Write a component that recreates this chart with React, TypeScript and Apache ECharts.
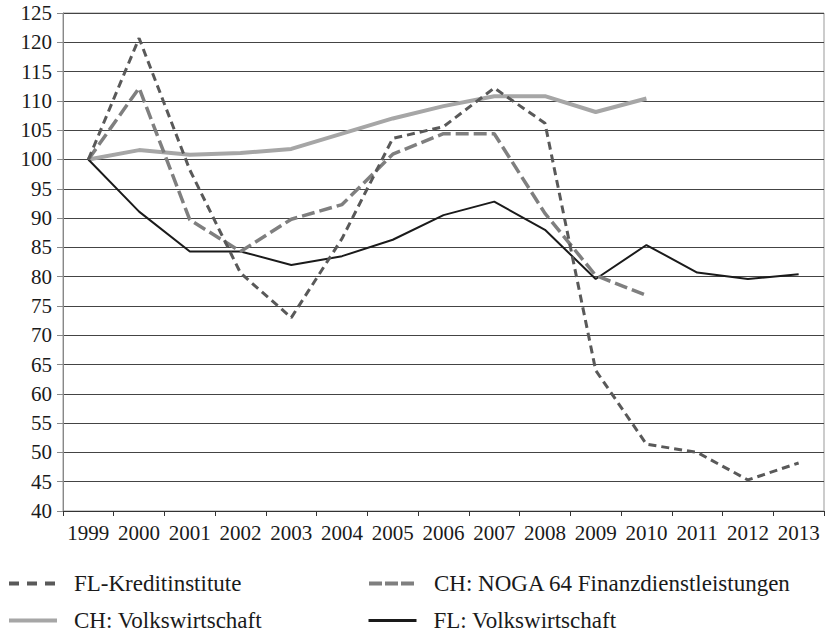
import React, { useEffect, useRef } from "react";
import * as echarts from "echarts";

const years = ["1999", "2000", "2001", "2002", "2003", "2004", "2005", "2006", "2007", "2008", "2009", "2010", "2011", "2012", "2013"];
const flKredit = [100, 120.7, 98.2, 80.6, 73, 86.5, 103.6, 105.6, 112.2, 106.2, 64, 51.4, 50, 45.3, 48.2];
const chNoga = [100, 112.2, 89.7, 84.3, 89.8, 92.3, 100.9, 104.4, 104.4, 90.8, 80.2, 76.8, null, null, null];
const chVolks = [100, 101.6, 100.8, 101.1, 101.8, 104.4, 107.0, 109.1, 110.8, 110.8, 108.1, 110.4, null, null, null];
const flVolks = [100, 91.1, 84.3, 84.3, 82.0, 83.5, 86.3, 90.5, 92.8, 88.0, 79.6, 85.4, 80.7, 79.6, 80.4];

const names = ["FL-Kreditinstitute", "CH: NOGA 64 Finanzdienstleistungen", "CH: Volkswirtschaft", "FL: Volkswirtschaft"];

const FONT = "Times New Roman, Liberation Serif, DejaVu Serif, serif";

export default function App() {
  const ref = useRef<HTMLDivElement>(null);
  useEffect(() => {
    if (!ref.current) return;
    const chart = echarts.init(ref.current, null, { renderer: "svg" });
    const legendBase = {
      orient: "horizontal",
      padding: 0,
      itemWidth: 48,
      itemHeight: 14,
      itemStyle: { opacity: 0, color: "transparent", borderWidth: 0 },
      textStyle: { fontFamily: FONT, fontSize: 23, color: "#1a1a1a", padding: [0, 0, 0, 12] },
      selectedMode: false,
    };
    chart.setOption({
      animation: false,
      backgroundColor: "#ffffff",
      textStyle: { fontFamily: FONT },
      grid: {
        left: 63,
        right: 1,
        top: 13,
        bottom: 123,
        show: true,
        borderColor: "#999",
        borderWidth: 1,
        backgroundColor: "transparent",
      },
      legend: [
        { ...legendBase, data: [names[0]], left: 7, top: 572, lineStyle: { width: 4, type: [10, 8], color: "#595959" } },
        { ...legendBase, data: [names[1]], left: 367, top: 572, lineStyle: { width: 4, type: [13, 3], color: "#7f7f7f" } },
        { ...legendBase, data: [names[2]], left: 7, top: 609, lineStyle: { width: 4, type: "solid", color: "#a6a6a6" } },
        { ...legendBase, data: [names[3]], left: 367, top: 609, lineStyle: { width: 3, type: "solid", color: "#1a1a1a" } },
      ],
      xAxis: {
        type: "category",
        data: years,
        boundaryGap: true,
        axisLine: { lineStyle: { color: "#333", width: 1 } },
        axisTick: { show: true, length: 5, alignWithLabel: false, lineStyle: { color: "#333" } },
        axisLabel: { interval: 0, fontFamily: FONT, fontSize: 21, color: "#1a1a1a", margin: 11 },
        splitLine: { show: false },
      },
      yAxis: {
        type: "value",
        min: 40,
        max: 125,
        interval: 5,
        axisLine: { show: true, lineStyle: { color: "#888", width: 1 } },
        axisTick: { show: true, length: 6, lineStyle: { color: "#888" } },
        axisLabel: { fontFamily: FONT, fontSize: 21, color: "#1a1a1a", margin: 11 },
        splitLine: { show: true, lineStyle: { color: "#444", width: 1 } },
      },
      series: [
        {
          name: names[2],
          type: "line",
          data: chVolks,
          symbol: "none",
          lineStyle: { color: "#a6a6a6", width: 4, type: "solid" },
          itemStyle: { color: "#a6a6a6" },
          z: 2,
        },
        {
          name: names[3],
          type: "line",
          data: flVolks,
          symbol: "none",
          lineStyle: { color: "#1a1a1a", width: 2, type: "solid" },
          itemStyle: { color: "#1a1a1a" },
          z: 3,
        },
        {
          name: names[1],
          type: "line",
          data: chNoga,
          symbol: "none",
          lineStyle: { color: "#7f7f7f", width: 3.5, type: [13, 5] },
          itemStyle: { color: "#7f7f7f" },
          z: 4,
        },
        {
          name: names[0],
          type: "line",
          data: flKredit,
          symbol: "none",
          lineStyle: { color: "#595959", width: 3, type: [8, 5] },
          itemStyle: { color: "#595959" },
          z: 5,
        },
      ],
    });
    return () => chart.dispose();
  }, []);
  return (
    <div
      ref={ref}
      style={{ position: "fixed", left: 0, top: 0, width: 825, height: 634, background: "#fff" }}
    />
  );
}
